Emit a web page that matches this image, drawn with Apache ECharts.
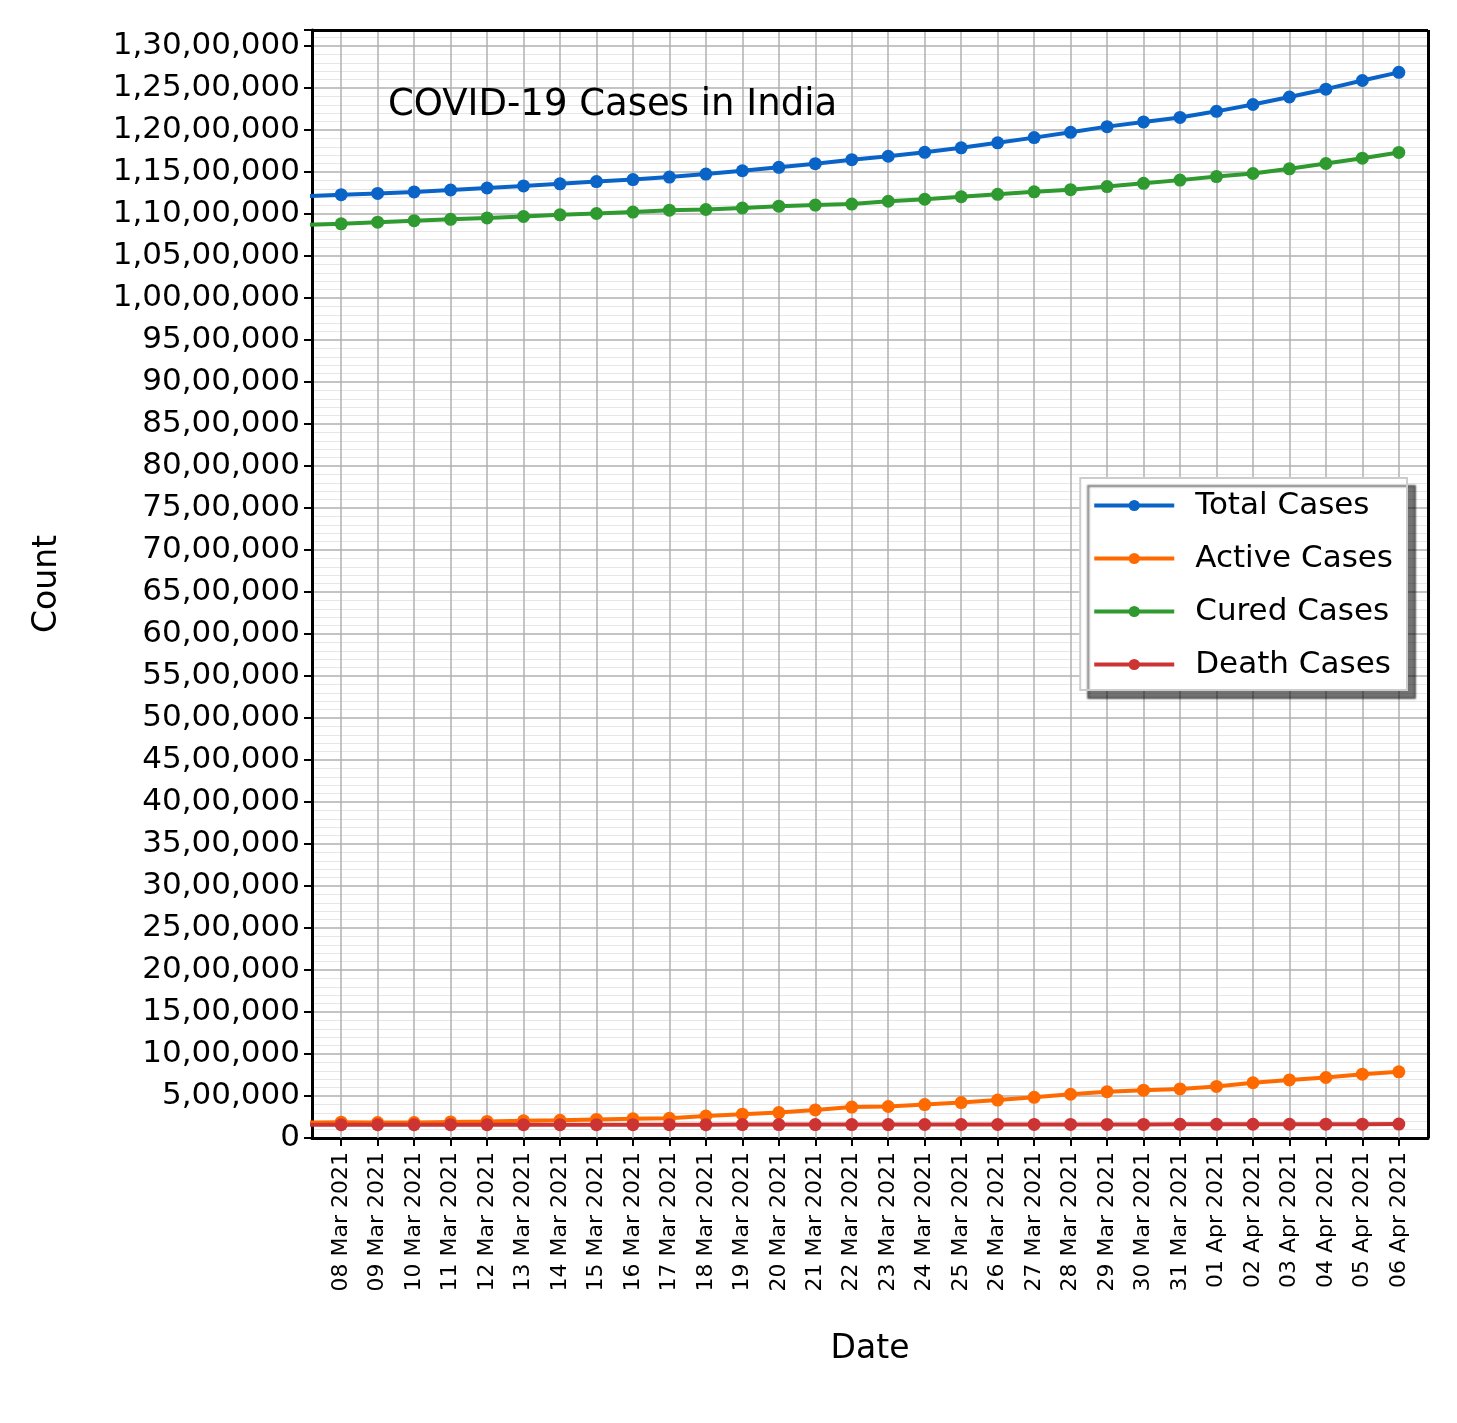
<!DOCTYPE html>
<html><head><meta charset="utf-8">
<script src="https://cdn.jsdelivr.net/npm/echarts@6/dist/echarts.min.js"></script>
<style>html,body{margin:0;background:#fff}#c{width:1457px;height:1423px}</style></head>
<body><div id="c"></div>
<script>
// index -1 = 07 Mar 2021 (partially visible at left edge)
const dates = ['07 Mar 2021','08 Mar 2021','09 Mar 2021','10 Mar 2021','11 Mar 2021','12 Mar 2021','13 Mar 2021','14 Mar 2021','15 Mar 2021','16 Mar 2021','17 Mar 2021','18 Mar 2021','19 Mar 2021','20 Mar 2021','21 Mar 2021','22 Mar 2021','23 Mar 2021','24 Mar 2021','25 Mar 2021','26 Mar 2021','27 Mar 2021','28 Mar 2021','29 Mar 2021','30 Mar 2021','31 Mar 2021','01 Apr 2021','02 Apr 2021','03 Apr 2021','04 Apr 2021','05 Apr 2021','06 Apr 2021'];
const totalCases = [11210799,11229398,11244786,11262707,11285561,11308846,11333728,11359048,11385339,11409831,11438734,11474605,11514331,11555284,11599130,11646081,11686796,11733594,11787534,11846652,11908910,11971624,12039644,12095855,12149335,12221665,12303131,12392260,12485509,12589067,12686049];
const activeCases = [184523,188747,184598,184523,191128,197237,205153,211052,221184,228083,234838,262000,284000,303000,334000,368000,375000,398000,422000,452000,484000,521000,552000,569000,584000,614000,658000,691000,720000,760000,788223];
const deathCases = [157756,157853,157930,158063,158189,158306,158446,158606,158725,158856,159044,159216,159370,159558,159755,159967,160166,160441,160692,160949,161240,161552,161843,162114,162468,162927,163428,163954,164623,165101,165547];
const curedCases = totalCases.map((t,i)=>t-activeCases[i]-deathCases[i]);
const xIdx = dates.map((d,i)=>i-1);
const pairs = arr => arr.map((v,i)=>[xIdx[i],v]);
function indFmt(v){ if(v===0) return '0'; let s=String(Math.round(v)); let last3=s.slice(-3), rest=s.slice(0,-3); if(rest) last3=','+last3; rest=rest.replace(/\B(?=(\d{2})+(?!\d))/g,','); return rest+last3; }
const ticks = xIdx.filter(v=>v>=0);
const F = 'DejaVu Sans';
const mk = (name,data,color,extra) => Object.assign({name,type:'line',data:pairs(data),symbol:'circle',symbolSize:13,
  lineStyle:{width:4,color},itemStyle:{color},clip:true,z:3},extra||{});
const chart = echarts.init(document.getElementById('c'));
chart.setOption({
  animation:false,
  grid:{left:312,right:29,top:30,bottom:285,show:false},
  title:{text:'COVID-19 Cases in India',left:383,top:82,textStyle:{fontFamily:F,fontSize:37,fontWeight:'normal',color:'#000'}},
  legend:{right:50,top:478,orient:'vertical',backgroundColor:'#fff',borderColor:'#ccc',borderWidth:2,padding:[12,14,10,12],
    itemWidth:80,itemHeight:14,itemGap:22,shadowColor:'rgba(0,0,0,0.55)',shadowOffsetX:8,shadowOffsetY:8,shadowBlur:2,
    lineStyle:{width:4},
    textStyle:{fontFamily:F,fontSize:31,color:'#000',padding:[0,0,0,16]},
    data:['Total Cases','Active Cases','Cured Cases','Death Cases']},
  xAxis:{type:'value',min:-0.8,max:29.8,name:'Date',nameLocation:'middle',nameGap:195,
    nameTextStyle:{fontFamily:F,fontSize:33,color:'#000'},
    axisLine:{show:true,onZero:false,lineStyle:{color:'#000',width:3}},
    axisTick:{show:true,customValues:ticks,length:8,lineStyle:{color:'#000',width:2}},
    axisLabel:{customValues:ticks,rotate:90,fontFamily:F,fontSize:22,color:'#000',margin:14,formatter:v=>dates[Math.round(v)+1]},
    splitLine:{show:false}},
  yAxis:{type:'value',min:0,max:13190000,interval:500000,name:'Count',nameLocation:'middle',nameGap:248,
    nameTextStyle:{fontFamily:F,fontSize:33,color:'#000'},
    axisLine:{show:true,onZero:false,lineStyle:{color:'#000',width:3}},
    axisTick:{show:true,length:8,lineStyle:{color:'#000',width:2}},
    axisLabel:{fontFamily:F,fontSize:31,color:'#000',margin:12,formatter:indFmt},
    splitLine:{show:true,lineStyle:{color:'#b0b0b0',width:1.5}},
    minorTick:{show:true,splitNumber:5,length:0},
    minorSplitLine:{show:true,lineStyle:{color:'#e6e6e6',width:1}}},
  series:[
    mk('Total Cases',totalCases,'#0a64c8',{markLine:{silent:true,symbol:'none',label:{show:false},z:1,
      lineStyle:{color:'#b0b0b0',width:1.5,type:'solid'},data:ticks.map(v=>({xAxis:v}))}}),
    mk('Active Cases',activeCases,'#ff6a00'),
    mk('Cured Cases',curedCases,'#2f9a2f'),
    mk('Death Cases',deathCases,'#cc3333'),
    {type:'line',data:[],markLine:{silent:true,symbol:'none',label:{show:false},lineStyle:{color:'#000',width:3,type:'solid'},
      data:[{yAxis:13190000},{xAxis:29.8}]}}
  ]
});
</script></body></html>
